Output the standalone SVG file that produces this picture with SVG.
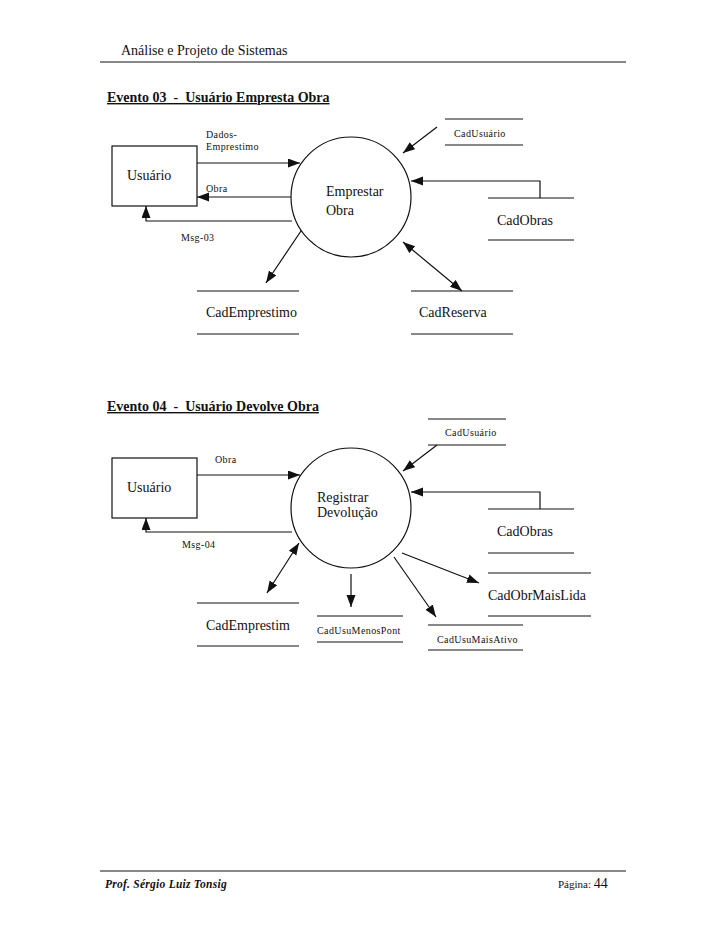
<svg xmlns="http://www.w3.org/2000/svg" width="728" height="942" viewBox="0 0 728 942">
<style>
text{font-family:"Liberation Serif","Times New Roman",serif;fill:#111}
.big{font-size:14px}
.sm{font-size:10px;letter-spacing:0.4px}
.ttl{font-size:14px;font-weight:bold;text-decoration:underline;white-space:pre}
.ln{stroke:#111;stroke-width:1.2;fill:none}
.ar{stroke:#111;stroke-width:1.2;fill:none;marker-end:url(#ah)}
.dar{stroke:#111;stroke-width:1.2;fill:none;marker-end:url(#ah);marker-start:url(#ah)}
.box{fill:#fff;stroke:#111;stroke-width:1.2}
</style>
<defs>
<marker id="ah" markerUnits="userSpaceOnUse" markerWidth="13" markerHeight="10" refX="12" refY="4.5" orient="auto-start-reverse" viewBox="0 0 13 10">
<path d="M0,0 L12,4.5 L0,9 z" fill="#111"/>
</marker>
</defs>
<rect width="728" height="942" fill="#fff"/>
<g id="header">
<text x="121" y="55" style="font-size:14px">Análise e Projeto de Sistemas</text>
<line x1="100" y1="62" x2="626" y2="62" class="ln"/>
</g>
<g id="title1"><text x="107" y="102" class="ttl" xml:space="preserve">Evento 03  -  Usuário Empresta Obra</text></g>

<g id="connectors1">
<line x1="197" y1="163" x2="300" y2="163" class="ar"/>
<line x1="291" y1="197" x2="197" y2="197" class="ar"/>
<polyline points="292,221 146,221 146,206" class="ar"/>
<line x1="437" y1="127" x2="403" y2="153" class="ar"/>
<polyline points="540,198 540,181 411,181" class="ar"/>
<line x1="403" y1="242" x2="462" y2="291" class="dar"/>
<line x1="303" y1="228" x2="266" y2="283" class="ar"/>
<text x="206" y="138" class="sm">Dados-</text>
<text x="206" y="150" class="sm">Emprestimo</text>
<text x="206" y="192" class="sm">Obra</text>
<text x="181" y="241" class="sm">Msg-03</text>
</g>

<g id="usuario1">
<rect x="112" y="146" width="85" height="60" class="box"/>
<text x="127" y="180" class="big">Usuário</text>
</g>
<g id="emprestar">
<circle cx="351" cy="197" r="60" class="box"/>
<text x="326" y="196" class="big">Emprestar</text>
<text x="326" y="215" class="big">Obra</text>
</g>
<g id="cadusuario1">
<line x1="445" y1="119" x2="523" y2="119" class="ln"/>
<line x1="445" y1="145" x2="523" y2="145" class="ln"/>
<text x="454" y="137" class="sm">CadUsuário</text>
</g>
<g id="cadobras1">
<line x1="488" y1="198" x2="574" y2="198" class="ln"/>
<line x1="488" y1="240" x2="574" y2="240" class="ln"/>
<text x="497" y="225" class="big">CadObras</text>
</g>
<g id="cademprestimo1">
<line x1="197" y1="291" x2="299" y2="291" class="ln"/>
<line x1="197" y1="334" x2="299" y2="334" class="ln"/>
<text x="206" y="317" class="big">CadEmprestimo</text>
</g>
<g id="cadreserva">
<line x1="411" y1="291" x2="513" y2="291" class="ln"/>
<line x1="411" y1="334" x2="513" y2="334" class="ln"/>
<text x="419" y="317" class="big">CadReserva</text>
</g>

<g id="title2"><text x="107" y="411" class="ttl" xml:space="preserve">Evento 04  -  Usuário Devolve Obra</text></g>

<g id="connectors2">
<line x1="197" y1="475" x2="300" y2="475" class="ar"/>
<polyline points="292,532 146,532 146,518" class="ar"/>
<line x1="437" y1="445" x2="403" y2="471" class="ar"/>
<polyline points="540,509 540,492 411,492" class="ar"/>
<line x1="402" y1="553" x2="479" y2="583" class="ar"/>
<line x1="394" y1="557" x2="436" y2="617" class="ar"/>
<line x1="351" y1="574" x2="351" y2="607" class="ar"/>
<line x1="299" y1="543" x2="267" y2="593" class="dar"/>
<text x="215" y="463" class="sm">Obra</text>
<text x="182" y="548" class="sm">Msg-04</text>
</g>

<g id="usuario2">
<rect x="112" y="458" width="85" height="60" class="box"/>
<text x="127" y="492" class="big">Usuário</text>
</g>
<g id="registrar">
<circle cx="351" cy="508" r="60" class="box"/>
<text x="317" y="502" class="big">Registrar</text>
<text x="317" y="517" class="big">Devolução</text>
</g>
<g id="cadusuario2">
<line x1="428" y1="419" x2="506" y2="419" class="ln"/>
<line x1="428" y1="445" x2="506" y2="445" class="ln"/>
<text x="445" y="436" class="sm">CadUsuário</text>
</g>
<g id="cadobras2">
<line x1="488" y1="509" x2="574" y2="509" class="ln"/>
<line x1="488" y1="553" x2="574" y2="553" class="ln"/>
<text x="497" y="536" class="big">CadObras</text>
</g>
<g id="cadobrmaislida">
<line x1="488" y1="573" x2="591" y2="573" class="ln"/>
<line x1="488" y1="616" x2="591" y2="616" class="ln"/>
<text x="488" y="600" class="big">CadObrMaisLida</text>
</g>
<g id="cademprestim2">
<line x1="197" y1="603" x2="299" y2="603" class="ln"/>
<line x1="197" y1="646" x2="299" y2="646" class="ln"/>
<text x="206" y="630" class="big">CadEmprestim</text>
</g>
<g id="cadusumenospont">
<line x1="317" y1="616" x2="403" y2="616" class="ln"/>
<line x1="317" y1="642" x2="403" y2="642" class="ln"/>
<text x="317" y="634" class="sm">CadUsuMenosPont</text>
</g>
<g id="cadusumaisativo">
<line x1="428" y1="625" x2="523" y2="625" class="ln"/>
<line x1="428" y1="650" x2="523" y2="650" class="ln"/>
<text x="437" y="643" class="sm">CadUsuMaisAtivo</text>
</g>

<g id="footer">
<line x1="100" y1="871" x2="626" y2="871" class="ln"/>
<text x="105" y="888" style="font-size:11.5px;font-weight:bold;font-style:italic;letter-spacing:0.25px">Prof. Sérgio Luiz Tonsig</text>
<text x="558" y="888" style="font-size:11px">Página: <tspan style="font-size:14px">44</tspan></text>
</g>
</svg>
